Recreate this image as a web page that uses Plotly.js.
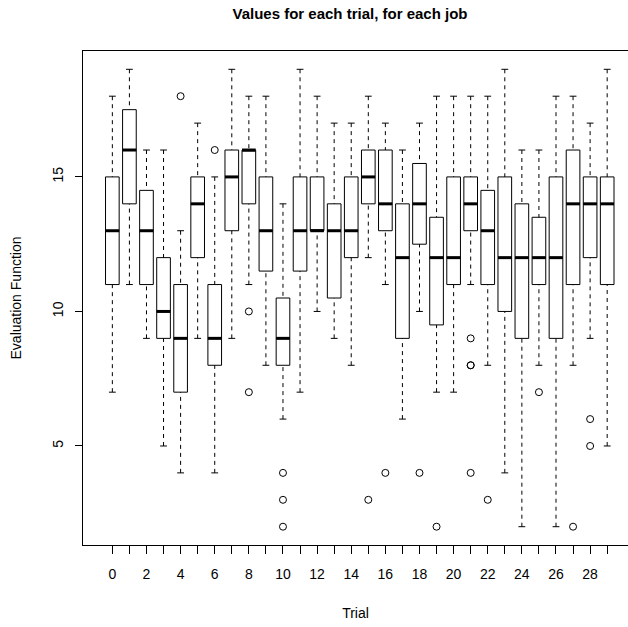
<!DOCTYPE html>
<html>
<head>
<meta charset="utf-8">
<script src="https://cdn.plot.ly/plotly-3.0.1.min.js"></script>
<style>html,body{margin:0;padding:0;overflow:hidden;background:#fff;}</style>
</head>
<body>
<div id="chart" style="width:628px;height:627px;"></div>
<script>
// Trials (x categories)
const trials = [0,1,2,3,4,5,6,7,8,9,10,11,12,13,14,15,16,17,18,19,20,21,22,23,24,25,26,27,28,29];
// Box statistics per trial
const lowerWhisker = [7,11,9,5,4,9,4,9,11,8,6,7,10,9,8,12,11,6,10,7,7,11,8,4,2,8,2,8,9,5];
const q1Values     = [11,14,11,9,7,12,8,13,14,11.5,8,11.5,13,10.5,12,14,13,9,12.5,9.5,11,13,11,10,9,11,9,11,12,11];
const medianValues = [13,16,13,10,9,14,9,15,16,13,9,13,13,13,13,15,14,12,14,12,12,14,13,12,12,12,12,14,14,14];
const q3Values     = [15,17.5,14.5,12,11,15,11,16,16,15,10.5,15,15,14,15,16,16,14,15.5,13.5,15,15,14.5,15,14,13.5,15,16,15,15];
const upperWhisker = [18,19,16,16,13,17,15,19,18,18,14,19,18,17,17,18,17,16,17,18,18,18,18,19,16,16,18,18,17,19];
// Outliers
const outlierTrial = [4,6,8,8,10,10,10,15,16,18,19,21,21,21,21,22,25,27,28,28];
const outlierValue = [18,16,10,7,4,3,2,3,4,4,2,9,8,8,4,3,7,2,6,5];
// Tick labels
const xTickText = trials.map(t => (t % 2 === 0 ? String(t) : ''));
const yTickVals = [5,10,15];

const BOX_HALF = 0.4, CAP_HALF = 0.2;
const FONT = 'Liberation Sans, Arial, Helvetica, sans-serif';

function segs(xf, yf) {
  const x = [], y = [];
  trials.forEach((t, i) => { const a = xf(t, i), b = yf(t, i); x.push(a[0], a[1], null); y.push(b[0], b[1], null); });
  return {x, y};
}

const whUp = segs(t => [t, t], (t, i) => [upperWhisker[i], q3Values[i]]);
const whLo = segs(t => [t, t], (t, i) => [lowerWhisker[i], q1Values[i]]);
const capUp = segs(t => [t - CAP_HALF, t + CAP_HALF], (t, i) => [upperWhisker[i], upperWhisker[i]]);
const capLo = segs(t => [t - CAP_HALF, t + CAP_HALF], (t, i) => [lowerWhisker[i], lowerWhisker[i]]);
const med = segs(t => [t - BOX_HALF, t + BOX_HALF], (t, i) => [medianValues[i], medianValues[i]]);

const data = [
  {type:'scatter', mode:'lines', x: whUp.x.concat(whLo.x), y: whUp.y.concat(whLo.y),
   line:{color:'#000', width:1, dash:'4px,4px'}, hoverinfo:'skip', showlegend:false},
  {type:'scatter', mode:'lines', x: capUp.x.concat(capLo.x), y: capUp.y.concat(capLo.y),
   line:{color:'#000', width:1}, hoverinfo:'skip', showlegend:false},
  {type:'box', x: trials, q1: q1Values, median: medianValues, q3: q3Values,
   lowerfence: q1Values, upperfence: q3Values, width: 2*BOX_HALF, whiskerwidth: 0,
   fillcolor:'#fff', line:{color:'#000', width:1}, hoverinfo:'skip', showlegend:false},
  {type:'scatter', mode:'lines', x: med.x, y: med.y,
   line:{color:'#000', width:3}, hoverinfo:'skip', showlegend:false},
  {type:'scatter', mode:'markers', x: outlierTrial, y: outlierValue,
   marker:{symbol:'circle-open', size:7, color:'#000', line:{width:1, color:'#000'}},
   hoverinfo:'skip', showlegend:false}
];

const layout = {
  width: 628, height: 627,
  margin: {l: 83, r: 0, t: 51, b: 82},
  paper_bgcolor: '#fff', plot_bgcolor: '#fff',
  font: {family: FONT, size: 14, color: '#000'},
  showlegend: false,
  title: {text: 'Values for each trial, for each job', font: {family: FONT, size: 15, weight: 'bold', color:'#000'},
          x: 350/628, xref: 'container', xanchor: 'center', y: 1 - 14/627, yref: 'container', yanchor: 'middle'},
  xaxis: {range: [-1.72, 30.22], tickmode: 'array', tickvals: trials, ticktext: xTickText,
          ticks: 'outside', ticklen: 8, tickwidth: 1, tickcolor: '#000', ticklabelstandoff: 8,
          showline: true, linecolor: '#000', linewidth: 1, mirror: true,
          showgrid: false, zeroline: false, tickfont: {size: 14},
          title: {text: 'Trial', font: {size: 14}, standoff: 27}},
  yaxis: {range: [1.32, 19.68], tickmode: 'array', tickvals: yTickVals,
          ticks: 'outside', ticklen: 7, tickwidth: 1, tickcolor: '#000', tickangle: -90, ticklabelstandoff: 6,
          showline: true, linecolor: '#000', linewidth: 1, mirror: false,
          showgrid: false, zeroline: false, tickfont: {size: 14},
          title: {text: 'Evaluation Function', font: {size: 14}, standoff: 25}}
};

Plotly.newPlot('chart', data, layout, {staticPlot: true, displayModeBar: false});
</script>
</body>
</html>
